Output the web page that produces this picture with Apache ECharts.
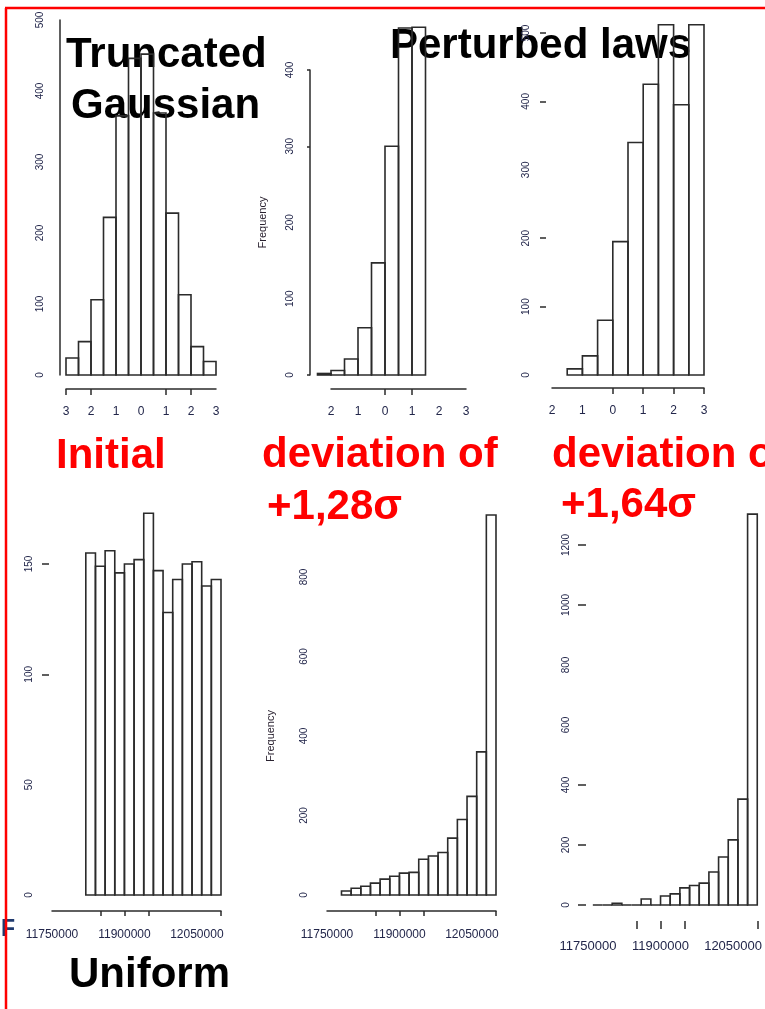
<!DOCTYPE html>
<html>
<head>
<meta charset="utf-8">
<style>
  html, body { margin: 0; padding: 0; background: #ffffff; }
  #chart { width: 765px; height: 1009px; }
</style>
<script src="https://cdn.jsdelivr.net/npm/echarts@6/dist/echarts.min.js"></script>
</head>
<body>
<div id="chart"></div>
<script>
// ---- Histogram data: bin edges and counts for each law ----

// Truncated Gaussian (initial law)
const gaussBreaks = [-3, -2.5, -2, -1.5, -1, -0.5, 0, 0.5, 1, 1.5, 2, 2.5, 3];
const gaussCounts = [24, 47, 106, 222, 365, 446, 452, 369, 228, 113, 40, 19];

// Truncated Gaussian, deviation of +1,28 sigma
const gauss128Breaks = [-2.5, -2, -1.5, -1, -0.5, 0, 0.5, 1, 1.5];
const gauss128Counts = [2, 6, 21, 62, 147, 300, 455, 456];

// Truncated Gaussian, deviation of +1,64 sigma
const gauss164Breaks = [-1.5, -1, -0.5, 0, 0.5, 1, 1.5, 2, 2.5, 3];
const gauss164Counts = [9, 28, 80, 195, 340, 425, 512, 395, 512];

// Uniform (initial law)
const unifBreaks = [11820000, 11840000, 11860000, 11880000, 11900000, 11920000, 11940000,
  11960000, 11980000, 12000000, 12020000, 12040000, 12060000, 12080000, 12100000];
const unifCounts = [155, 149, 156, 146, 150, 152, 173, 147, 128, 143, 150, 151, 140, 143];

// Uniform, deviation of +1,28 sigma
const unif128Breaks = [11780000, 11800000, 11820000, 11840000, 11860000, 11880000, 11900000,
  11920000, 11940000, 11960000, 11980000, 12000000, 12020000, 12040000, 12060000, 12080000, 12100000];
const unif128Counts = [10, 17, 22, 30, 40, 47, 55, 57, 90, 98, 107, 143, 190, 248, 360, 956];

// Uniform, deviation of +1,64 sigma
const unif164Breaks = [11760000, 11780000, 11800000, 11820000, 11840000, 11860000, 11880000, 11900000,
  11920000, 11940000, 11960000, 11980000, 12000000, 12020000, 12040000, 12060000, 12080000, 12100000];
const unif164Counts = [0, 0, 6, 0, 0, 20, 0, 30, 37, 57, 65, 73, 110, 160, 217, 353, 1303];

// ---- Tick values and tick labels ----
const gaussLabelValues = [-3, -2, -1, 0, 1, 2, 3];
const gaussLabelText = ['3', '2', '1', '0', '1', '2', '3'];
const shiftedLabelValues = [-2, -1, 0, 1, 2, 3];
const shiftedLabelText = ['2', '1', '0', '1', '2', '3'];
const gaussTicks = [-3, -2, 1, 2];
const gauss128Ticks = [0, 1];
const gauss164Ticks = [0, 1, 2, 3];

const unifLabelValues = [11750000, 11900000, 12050000];
const unifLabelText = ['11750000', '11900000', '12050000'];
const unifTicks = [11850000, 11900000, 11950000, 12100000];

const gaussYTicks = [];
const gauss128YTicks = [0, 300, 400];
const gauss164YTicks = [100, 200, 400, 500];
const unifYTicks = [100, 150];
const unif128YTicks = [];
const unif164YTicks = [0, 200, 400, 1000, 1200];

// ---- Panel layout ----
const LABEL_COLOR = '#22264a';
const LINE_COLOR = '#2b2b2b';
const FONT = '"Liberation Sans", Arial, sans-serif';

function labelLookup(values, texts) {
  return function (v) {
    const i = values.indexOf(v);
    return i >= 0 ? texts[i] : '';
  };
}

const panels = [
  { breaks: gaussBreaks, counts: gaussCounts,
    grid: { left: 66, top: 20, width: 150, height: 355 },
    x: { min: -3, max: 3, interval: 1, offset: 14, line: true, ticks: gaussTicks, tickLen: 6,
         labelValues: gaussLabelValues, labelText: gaussLabelText, fontSize: 12, margin: 17 },
    y: { max: 500, interval: 100, offset: 6, line: true, ticks: gaussYTicks, tickLen: 3, name: '' } },
  { breaks: gauss128Breaks, counts: gauss128Counts,
    grid: { left: 331, top: 70, width: 135, height: 305 },
    x: { min: -2, max: 3, interval: 1, offset: 14, line: true, ticks: gauss128Ticks, tickLen: 6,
         labelValues: shiftedLabelValues, labelText: shiftedLabelText, fontSize: 12, margin: 17 },
    y: { max: 400, interval: 100, offset: 21, line: true, ticks: gauss128YTicks, tickLen: 3, name: 'Frequency', nameGap: 42 } },
  { breaks: gauss164Breaks, counts: gauss164Counts,
    grid: { left: 552, top: 33, width: 152, height: 342 },
    x: { min: -2, max: 3, interval: 1, offset: 13, line: true, ticks: gauss164Ticks, tickLen: 6,
         labelValues: shiftedLabelValues, labelText: shiftedLabelText, fontSize: 12, margin: 17 },
    y: { max: 500, interval: 100, offset: 6, line: false, ticks: gauss164YTicks, tickLen: 6, name: '' } },
  { breaks: unifBreaks, counts: unifCounts,
    grid: { left: 52, top: 564, width: 169, height: 331 },
    x: { min: 11750000, max: 12100000, interval: 50000, offset: 16, line: true, ticks: unifTicks, tickLen: 5,
         labelValues: unifLabelValues, labelText: unifLabelText, fontSize: 12, margin: 18 },
    y: { max: 150, interval: 50, offset: 3, line: false, ticks: unifYTicks, tickLen: 7, name: '' } },
  { breaks: unif128Breaks, counts: unif128Counts,
    grid: { left: 327, top: 577, width: 169, height: 318 },
    x: { min: 11750000, max: 12100000, interval: 50000, offset: 16, line: true, ticks: unifTicks, tickLen: 5,
         labelValues: unifLabelValues, labelText: unifLabelText, fontSize: 12, margin: 18 },
    y: { max: 800, interval: 200, offset: 3, line: false, ticks: unif128YTicks, tickLen: 7, name: 'Frequency', nameGap: 48 } },
  { breaks: unif164Breaks, counts: unif164Counts,
    grid: { left: 588, top: 545, width: 174, height: 360 },
    x: { min: 11750000, max: 12100000, interval: 50000, offset: 16, line: false, ticks: unifTicks, tickLen: 8,
         labelValues: unifLabelValues, labelText: unifLabelText, fontSize: 13, margin: 19 },
    y: { max: 1200, interval: 200, offset: 2, line: false, ticks: unif164YTicks, tickLen: 8, name: '' } }
];

const grids = [], xAxes = [], yAxes = [], series = [];

panels.forEach(function (p, i) {
  grids.push(Object.assign({ containLabel: false }, p.grid));

  xAxes.push({
    type: 'value', gridIndex: i, position: 'bottom',
    min: p.x.min, max: p.x.max, interval: p.x.interval, offset: p.x.offset,
    splitLine: { show: false },
    axisLine: { show: p.x.line, onZero: false, lineStyle: { color: LINE_COLOR, width: 1.5 } },
    axisTick: { show: true, customValues: p.x.ticks, length: p.x.tickLen,
                lineStyle: { color: LINE_COLOR, width: 1.5 } },
    axisLabel: { show: true, customValues: p.x.labelValues,
                 formatter: labelLookup(p.x.labelValues, p.x.labelText),
                 color: LABEL_COLOR, fontSize: p.x.fontSize, fontFamily: FONT,
                 margin: p.x.margin, hideOverlap: false }
  });

  yAxes.push({
    type: 'value', gridIndex: i, position: 'left',
    min: 0, max: p.y.max, interval: p.y.interval, offset: p.y.offset,
    name: p.y.name, nameLocation: 'middle', nameRotate: 90, nameGap: p.y.nameGap || 0,
    nameTextStyle: { color: '#2a2230', fontSize: 11, fontFamily: FONT },
    splitLine: { show: false },
    axisLine: { show: p.y.line, onZero: false, lineStyle: { color: LINE_COLOR, width: 1.5 } },
    axisTick: { show: p.y.ticks.length > 0, customValues: p.y.ticks, length: p.y.tickLen,
                lineStyle: { color: LINE_COLOR, width: 1.5 } },
    axisLabel: { show: true, rotate: 90, color: LABEL_COLOR, fontSize: 10, fontFamily: FONT,
                 margin: 15, hideOverlap: false,
                 formatter: function (v) { return String(v); } }
  });

  // one [start, end, count] row per bin
  const rows = p.counts.map(function (c, k) { return [p.breaks[k], p.breaks[k + 1], c]; });

  series.push({
    type: 'custom', xAxisIndex: i, yAxisIndex: i, clip: false, silent: true, z: 5,
    encode: { x: [0, 1], y: 2 },
    data: rows,
    renderItem: function (params, api) {
      const b0 = api.coord([api.value(0), 0]);
      const t1 = api.coord([api.value(1), api.value(2)]);
      return {
        type: 'polygon',
        shape: { points: [[b0[0], b0[1]], [b0[0], t1[1]], [t1[0], t1[1]], [t1[0], b0[1]]] },
        style: { fill: 'none', stroke: LINE_COLOR, lineWidth: 1.6 }
      };
    }
  });
});

// ---- Slide captions ----
const TITLE_FONT = 'bold 42px ' + FONT;
function caption(text, x, y, color, font) {
  return { type: 'text', x: x, y: y, z: 0,
           style: { text: text, fill: color, font: font || TITLE_FONT,
                    textAlign: 'left', textVerticalAlign: 'middle' } };
}

const graphics = [
  // slide frame
  { type: 'line', z: 1, shape: { x1: 5, y1: 8, x2: 765, y2: 8 }, style: { stroke: '#ff0000', lineWidth: 2.5 } },
  { type: 'line', z: 1, shape: { x1: 6, y1: 8, x2: 6, y2: 1009 }, style: { stroke: '#ff0000', lineWidth: 2.5 } },
  caption('Truncated', 66, 55, '#000000'),
  caption('Gaussian', 71, 106, '#000000'),
  caption('Perturbed laws', 390, 46, '#000000'),
  caption('Initial', 56, 456, '#ff0000'),
  caption('deviation of', 262, 455, '#ff0000'),
  caption('deviation of', 552, 455, '#ff0000'),
  caption('+1,28σ', 267, 507, '#ff0000'),
  caption('+1,64σ', 561, 505, '#ff0000'),
  caption('Uniform', 69, 975, '#000000'),
  caption('F', 1, 930, '#1f3a6e', 'bold 23px ' + FONT)
];

const chart = echarts.init(document.getElementById('chart'), null, { renderer: 'canvas' });
chart.setOption({
  animation: false,
  backgroundColor: '#ffffff',
  grid: grids,
  xAxis: xAxes,
  yAxis: yAxes,
  series: series,
  graphic: graphics
});
</script>
</body>
</html>
